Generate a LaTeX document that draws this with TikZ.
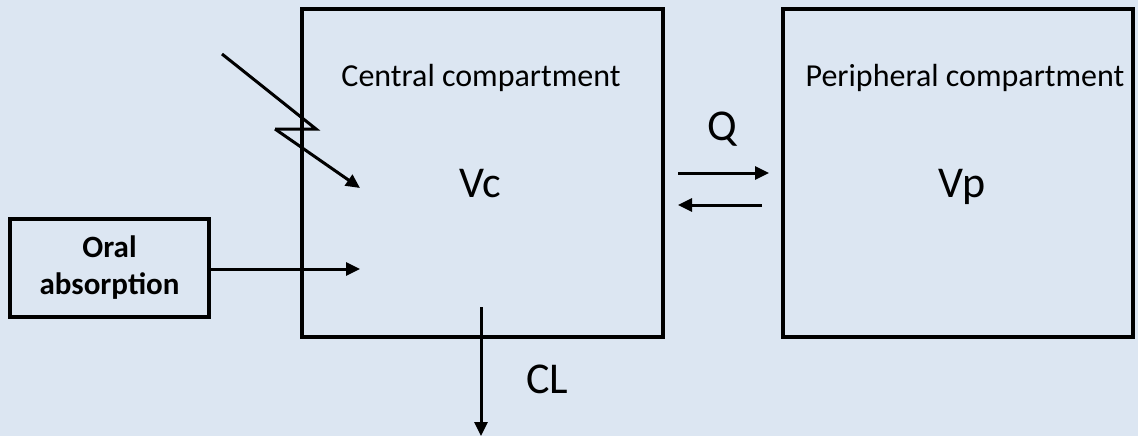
\documentclass[tikz,border=0pt]{standalone}
\usepackage{fontspec}
\setmainfont{Carlito}
\usetikzlibrary{arrows.meta}
\definecolor{bg}{HTML}{DCE6F2}
\begin{document}
\begin{tikzpicture}[x=1pt,y=-1pt,
  box/.style={draw=black,line width=4pt,inner sep=0pt},
  arr/.style={line width=3pt,-{Triangle[length=14pt,width=13pt]}},
  lab/.style={font=\fontsize{32}{36}\selectfont},
  big/.style={font=\fontsize{44}{48}\selectfont}]
\fill[bg] (0,0) rectangle (1138,436);
\useasboundingbox (0,0) rectangle (1138,436);
\node[box,minimum width=361pt,minimum height=328pt] (C) at (482.5,173) {};
\node[box,minimum width=350pt,minimum height=328pt] (P) at (958,173) {};
\node[box,minimum width=199pt,minimum height=98pt,align=center,font=\fontsize{31}{37}\selectfont\bfseries] (O) at (109.5,268) {Oral\\absorption};
\node[lab,anchor=base] (ct) at (481,87) {Central compartment};
\node[lab,anchor=base] (pt) at (965,87) {Peripheral compartment};
\node[big,anchor=base] (vc) at (480,197) {Vc};
\node[big,anchor=base] (vp) at (962,197) {Vp};
\node[big,anchor=base] (q) at (722,140) {Q};
\node[big,anchor=base] (cl) at (547,393) {CL};
\coordinate (l0) at (222,54);
\coordinate (l1) at (316,129);
\coordinate (l2) at (275,129);
\coordinate (l3) at (360,188);
\draw[line width=3pt,line join=miter] (l0) -- (l1) -- (l2);
\draw[arr] (l2) -- (l3);
\coordinate (oa) at (360,269);
\draw[arr] (O.east |- oa) -- (oa);
\coordinate (q1s) at (678,173);
\coordinate (q1e) at (769,173);
\coordinate (q2s) at (762,205);
\coordinate (q2e) at (678,205);
\draw[arr] (q1s) -- (q1e);
\draw[arr] (q2s) -- (q2e);
\coordinate (cls) at (481,307);
\coordinate (cle) at (481,436);
\draw[arr] (cls) -- (cle);
\end{tikzpicture}
\end{document}
